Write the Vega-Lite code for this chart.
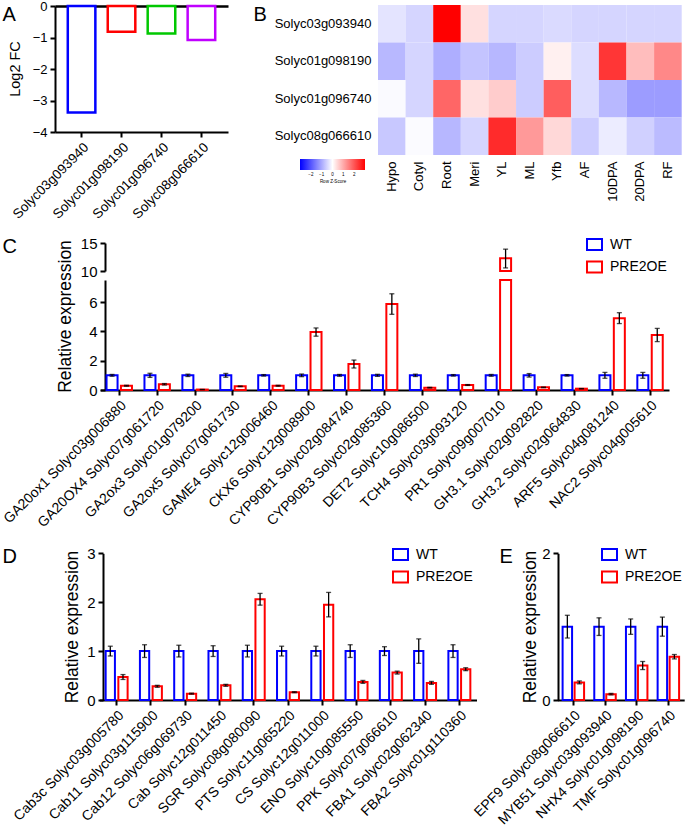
{
  "$schema": "https://vega.github.io/schema/vega-lite/v6.json",
  "width": 685,
  "height": 825,
  "autosize": "none",
  "padding": 0,
  "background": "white",
  "config": {
    "view": {"stroke": null},
    "font": "Liberation Sans",
    "axis": {"labelFont": "Liberation Sans", "titleFont": "Liberation Sans", "domainColor": "#000", "tickColor": "#000", "labelColor": "#000", "titleColor": "#000", "titleFontWeight": "normal", "domainWidth": 2, "tickWidth": 2, "tickSize": 5, "labelPadding": 3, "grid": false, "labelOverlap": false, "labelLimit": 0, "labelFlush": false},
    "legend": {"labelFont": "Liberation Sans", "titleFont": "Liberation Sans", "labelColor": "#000"}
  },
  "datasets": {
    "panelA": [
      {"gene": "Solyc03g093940", "log2fc": -3.38},
      {"gene": "Solyc01g098190", "log2fc": -0.82},
      {"gene": "Solyc01g096740", "log2fc": -0.87},
      {"gene": "Solyc08g066610", "log2fc": -1.08}
    ],
    "panelB": [
      {"gene": "Solyc03g093940", "tissue": "Hypo", "z": -0.32},
      {"gene": "Solyc03g093940", "tissue": "Cotyl", "z": -0.5},
      {"gene": "Solyc03g093940", "tissue": "Root", "z": 3.0},
      {"gene": "Solyc03g093940", "tissue": "Meri", "z": 0.37},
      {"gene": "Solyc03g093940", "tissue": "YL", "z": -0.5},
      {"gene": "Solyc03g093940", "tissue": "ML", "z": -0.5},
      {"gene": "Solyc03g093940", "tissue": "Yfb", "z": -0.43},
      {"gene": "Solyc03g093940", "tissue": "AF", "z": -0.5},
      {"gene": "Solyc03g093940", "tissue": "10DPA", "z": -0.5},
      {"gene": "Solyc03g093940", "tissue": "20DPA", "z": -0.5},
      {"gene": "Solyc03g093940", "tissue": "RF", "z": -0.5},
      {"gene": "Solyc01g098190", "tissue": "Hypo", "z": -0.84},
      {"gene": "Solyc01g098190", "tissue": "Cotyl", "z": -0.5},
      {"gene": "Solyc01g098190", "tissue": "Root", "z": -0.95},
      {"gene": "Solyc01g098190", "tissue": "Meri", "z": -0.7},
      {"gene": "Solyc01g098190", "tissue": "YL", "z": -0.85},
      {"gene": "Solyc01g098190", "tissue": "ML", "z": -0.6},
      {"gene": "Solyc01g098190", "tissue": "Yfb", "z": 0.18},
      {"gene": "Solyc01g098190", "tissue": "AF", "z": -0.4},
      {"gene": "Solyc01g098190", "tissue": "10DPA", "z": 2.37},
      {"gene": "Solyc01g098190", "tissue": "20DPA", "z": 0.78},
      {"gene": "Solyc01g098190", "tissue": "RF", "z": 1.4},
      {"gene": "Solyc01g096740", "tissue": "Hypo", "z": -0.06},
      {"gene": "Solyc01g096740", "tissue": "Cotyl", "z": -0.5},
      {"gene": "Solyc01g096740", "tissue": "Root", "z": 1.8},
      {"gene": "Solyc01g096740", "tissue": "Meri", "z": 0.37},
      {"gene": "Solyc01g096740", "tissue": "YL", "z": 0.6},
      {"gene": "Solyc01g096740", "tissue": "ML", "z": -0.6},
      {"gene": "Solyc01g096740", "tissue": "Yfb", "z": 1.9},
      {"gene": "Solyc01g096740", "tissue": "AF", "z": -0.4},
      {"gene": "Solyc01g096740", "tissue": "10DPA", "z": -0.84},
      {"gene": "Solyc01g096740", "tissue": "20DPA", "z": -1.16},
      {"gene": "Solyc01g096740", "tissue": "RF", "z": -1.16},
      {"gene": "Solyc08g066610", "tissue": "Hypo", "z": -0.65},
      {"gene": "Solyc08g066610", "tissue": "Cotyl", "z": -0.05},
      {"gene": "Solyc08g066610", "tissue": "Root", "z": -0.85},
      {"gene": "Solyc08g066610", "tissue": "Meri", "z": -0.5},
      {"gene": "Solyc08g066610", "tissue": "YL", "z": 2.5},
      {"gene": "Solyc08g066610", "tissue": "ML", "z": 1.2},
      {"gene": "Solyc08g066610", "tissue": "Yfb", "z": 0.46},
      {"gene": "Solyc08g066610", "tissue": "AF", "z": -0.6},
      {"gene": "Solyc08g066610", "tissue": "10DPA", "z": -0.22},
      {"gene": "Solyc08g066610", "tissue": "20DPA", "z": -0.55},
      {"gene": "Solyc08g066610", "tissue": "RF", "z": -0.8}
    ],
    "panelC": [
      {"gene": "GA20ox1 Solyc03g006880", "group": "WT", "value": 1.0, "lo": 0.94, "hi": 1.06},
      {"gene": "GA20ox1 Solyc03g006880", "group": "PRE2OE", "value": 0.29, "lo": 0.26, "hi": 0.32},
      {"gene": "GA20OX4 Solyc07g061720", "group": "WT", "value": 1.0, "lo": 0.86, "hi": 1.14},
      {"gene": "GA20OX4 Solyc07g061720", "group": "PRE2OE", "value": 0.39, "lo": 0.34, "hi": 0.44},
      {"gene": "GA2ox3 Solyc01g079200", "group": "WT", "value": 1.0, "lo": 0.92, "hi": 1.08},
      {"gene": "GA2ox3 Solyc01g079200", "group": "PRE2OE", "value": 0.03, "lo": 0.02, "hi": 0.04},
      {"gene": "GA2ox5 Solyc07g061730", "group": "WT", "value": 1.0, "lo": 0.87, "hi": 1.13},
      {"gene": "GA2ox5 Solyc07g061730", "group": "PRE2OE", "value": 0.25, "lo": 0.23, "hi": 0.27},
      {"gene": "GAME4 Solyc12g006460", "group": "WT", "value": 1.0, "lo": 0.95, "hi": 1.05},
      {"gene": "GAME4 Solyc12g006460", "group": "PRE2OE", "value": 0.29, "lo": 0.26, "hi": 0.32},
      {"gene": "CKX6 Solyc12g008900", "group": "WT", "value": 1.0, "lo": 0.91, "hi": 1.09},
      {"gene": "CKX6 Solyc12g008900", "group": "PRE2OE", "value": 3.95, "lo": 3.67, "hi": 4.23},
      {"gene": "CYP90B1 Solyc02g084740", "group": "WT", "value": 1.0, "lo": 0.94, "hi": 1.06},
      {"gene": "CYP90B1 Solyc02g084740", "group": "PRE2OE", "value": 1.77, "lo": 1.5, "hi": 2.04},
      {"gene": "CYP90B3 Solyc02g085360", "group": "WT", "value": 1.0, "lo": 0.93, "hi": 1.07},
      {"gene": "CYP90B3 Solyc02g085360", "group": "PRE2OE", "value": 5.86, "lo": 5.16, "hi": 6.56},
      {"gene": "DET2 Solyc10g086500", "group": "WT", "value": 1.0, "lo": 0.92, "hi": 1.08},
      {"gene": "DET2 Solyc10g086500", "group": "PRE2OE", "value": 0.16, "lo": 0.14, "hi": 0.18},
      {"gene": "TCH4 Solyc03g093120", "group": "WT", "value": 1.0, "lo": 0.95, "hi": 1.05},
      {"gene": "TCH4 Solyc03g093120", "group": "PRE2OE", "value": 0.34, "lo": 0.31, "hi": 0.37},
      {"gene": "PR1 Solyc09g007010", "group": "WT", "value": 1.0, "lo": 0.94, "hi": 1.06},
      {"gene": "PR1 Solyc09g007010", "group": "PRE2OE", "value": 12.27, "lo": 10.55, "hi": 13.9},
      {"gene": "GH3.1 Solyc02g092820", "group": "WT", "value": 1.0, "lo": 0.88, "hi": 1.12},
      {"gene": "GH3.1 Solyc02g092820", "group": "PRE2OE", "value": 0.18, "lo": 0.16, "hi": 0.2},
      {"gene": "GH3.2 Solyc02g064830", "group": "WT", "value": 1.0, "lo": 0.95, "hi": 1.05},
      {"gene": "GH3.2 Solyc02g064830", "group": "PRE2OE", "value": 0.09, "lo": 0.08, "hi": 0.1},
      {"gene": "ARF5 Solyc04g081240", "group": "WT", "value": 1.0, "lo": 0.8, "hi": 1.2},
      {"gene": "ARF5 Solyc04g081240", "group": "PRE2OE", "value": 4.9, "lo": 4.53, "hi": 5.27},
      {"gene": "NAC2 Solyc04g005610", "group": "WT", "value": 1.0, "lo": 0.8, "hi": 1.2},
      {"gene": "NAC2 Solyc04g005610", "group": "PRE2OE", "value": 3.75, "lo": 3.3, "hi": 4.2}
    ],
    "panelD": [
      {"gene": "Cab3c Solyc03g005780", "group": "WT", "value": 1.0, "lo": 0.9, "hi": 1.1},
      {"gene": "Cab3c Solyc03g005780", "group": "PRE2OE", "value": 0.47, "lo": 0.42, "hi": 0.52},
      {"gene": "Cab11 Solyc03g115900", "group": "WT", "value": 1.0, "lo": 0.87, "hi": 1.13},
      {"gene": "Cab11 Solyc03g115900", "group": "PRE2OE", "value": 0.28, "lo": 0.26, "hi": 0.3},
      {"gene": "Cab12 Solyc06g069730", "group": "WT", "value": 1.0, "lo": 0.88, "hi": 1.12},
      {"gene": "Cab12 Solyc06g069730", "group": "PRE2OE", "value": 0.13, "lo": 0.12, "hi": 0.14},
      {"gene": "Cab Solyc12g011450", "group": "WT", "value": 1.0, "lo": 0.89, "hi": 1.11},
      {"gene": "Cab Solyc12g011450", "group": "PRE2OE", "value": 0.3, "lo": 0.28, "hi": 0.32},
      {"gene": "SGR Solyc08g080090", "group": "WT", "value": 1.0, "lo": 0.88, "hi": 1.12},
      {"gene": "SGR Solyc08g080090", "group": "PRE2OE", "value": 2.06, "lo": 1.94, "hi": 2.18},
      {"gene": "PTS Solyc11g065220", "group": "WT", "value": 1.0, "lo": 0.9, "hi": 1.1},
      {"gene": "PTS Solyc11g065220", "group": "PRE2OE", "value": 0.16, "lo": 0.15, "hi": 0.17},
      {"gene": "CS Solyc12g011000", "group": "WT", "value": 1.0, "lo": 0.9, "hi": 1.1},
      {"gene": "CS Solyc12g011000", "group": "PRE2OE", "value": 1.95, "lo": 1.7, "hi": 2.2},
      {"gene": "ENO Solyc10g085550", "group": "WT", "value": 1.0, "lo": 0.87, "hi": 1.13},
      {"gene": "ENO Solyc10g085550", "group": "PRE2OE", "value": 0.37, "lo": 0.34, "hi": 0.4},
      {"gene": "PPK Solyc07g066610", "group": "WT", "value": 1.0, "lo": 0.91, "hi": 1.09},
      {"gene": "PPK Solyc07g066610", "group": "PRE2OE", "value": 0.56, "lo": 0.53, "hi": 0.59},
      {"gene": "FBA1 Solyc02g062340", "group": "WT", "value": 1.0, "lo": 0.75, "hi": 1.25},
      {"gene": "FBA1 Solyc02g062340", "group": "PRE2OE", "value": 0.35, "lo": 0.32, "hi": 0.38},
      {"gene": "FBA2 Solyc01g110360", "group": "WT", "value": 1.0, "lo": 0.87, "hi": 1.13},
      {"gene": "FBA2 Solyc01g110360", "group": "PRE2OE", "value": 0.63, "lo": 0.6, "hi": 0.66}
    ],
    "panelE": [
      {"gene": "EPF9 Solyc08g066610", "group": "WT", "value": 1.0, "lo": 0.845, "hi": 1.155},
      {"gene": "EPF9 Solyc08g066610", "group": "PRE2OE", "value": 0.24, "lo": 0.22, "hi": 0.26},
      {"gene": "MYB51 Solyc03g093940", "group": "WT", "value": 1.0, "lo": 0.88, "hi": 1.12},
      {"gene": "MYB51 Solyc03g093940", "group": "PRE2OE", "value": 0.08, "lo": 0.07, "hi": 0.09},
      {"gene": "NHX4 Solyc01g098190", "group": "WT", "value": 1.0, "lo": 0.895, "hi": 1.105},
      {"gene": "NHX4 Solyc01g098190", "group": "PRE2OE", "value": 0.47, "lo": 0.415, "hi": 0.525},
      {"gene": "TMF Solyc01g096740", "group": "WT", "value": 1.0, "lo": 0.87, "hi": 1.13},
      {"gene": "TMF Solyc01g096740", "group": "PRE2OE", "value": 0.59, "lo": 0.56, "hi": 0.62}
    ]
  },
  "layer": [
    {
      "data": {"name": "panelA"},
      "mark": {"type": "bar", "fill": "white", "strokeWidth": 2.5},
      "encoding": {
        "x": {"field": "gene", "type": "nominal", "sort": null,
          "scale": {"range": [55, 228], "paddingInner": 0.31, "paddingOuter": 0.32},
          "axis": {"orient": "bottom", "offset": -693, "labelAngle": -45, "labelFontSize": 13.5, "title": "A", "titleX": 2, "titleY": -112, "titleAngle": 0, "titleAlign": "left", "titleBaseline": "alphabetic", "titleFontSize": 20}},
        "y": {"field": "log2fc", "type": "quantitative",
          "scale": {"domain": [-4, 0], "range": [132, 6]},
          "axis": {"orient": "left", "offset": -55, "values": [-4, -3, -2, -1, 0], "format": "d", "labelFontSize": 13, "title": "Log2 FC", "titleFontSize": 14.5, "titleX": -40, "titleY": 68.5, "titleAngle": 270, "titleAlign": "center", "titleBaseline": "middle", "grid": true, "gridColor": "black", "gridWidth": 2.5, "gridOpacity": {"condition": {"test": "datum.value === 0", "value": 1}, "value": 0}}},
        "stroke": {"field": "gene", "type": "nominal", "sort": null, "scale": {"range": ["#0000ff", "#ff0000", "#00c800", "#c000ff"]}, "legend": null}
      }
    },
    {
      "data": {"name": "panelB"},
      "mark": "rect",
      "encoding": {
        "x": {"field": "tissue", "type": "nominal", "sort": null,
          "scale": {"range": [378, 681.7], "paddingInner": 0, "paddingOuter": 0},
          "axis": {"orient": "bottom", "offset": -670, "labelAngle": 270, "domain": false, "ticks": false, "tickSize": 0, "labelPadding": 6, "labelFontSize": 13, "title": "B", "titleX": 253, "titleY": -135, "titleAngle": 0, "titleAlign": "left", "titleBaseline": "alphabetic", "titleFontSize": 20}},
        "y": {"field": "gene", "type": "nominal", "sort": null,
          "scale": {"range": [5, 155], "paddingInner": 0, "paddingOuter": 0},
          "axis": {"orient": "left", "offset": -378, "domain": false, "ticks": false, "tickSize": 0, "labelPadding": 7, "labelFontSize": 13, "title": null}},
        "color": {"field": "z", "type": "quantitative",
          "scale": {"type": "linear", "domain": [-3, 0, 3], "range": ["#0000ff", "#ffffff", "#ff0000"], "interpolate": "rgb"},
          "legend": {"orient": "none", "legendX": 300, "legendY": 159, "direction": "horizontal", "gradientLength": 65, "gradientThickness": 11, "gradientStrokeWidth": 0, "values": [-2, -1, 0, 1, 2], "labelFontSize": 4.5, "labelOffset": 2, "title": "Row Z-Score", "titleOrient": "bottom", "titleFontSize": 4.5, "titleFontWeight": "normal", "titleAnchor": "middle", "titlePadding": 2, "padding": 0}}
      }
    },
    {
      "data": {"name": "panelC"},
      "transform": [{"filter": "datum.value > 8"}],
      "mark": {"type": "bar", "fill": "white", "strokeWidth": 2},
      "encoding": {
        "x": {"field": "gene", "type": "nominal", "scale": {"domain": ["GA20ox1 Solyc03g006880", "GA20OX4 Solyc07g061720", "GA2ox3 Solyc01g079200", "GA2ox5 Solyc07g061730", "GAME4 Solyc12g006460", "CKX6 Solyc12g008900", "CYP90B1 Solyc02g084740", "CYP90B3 Solyc02g085360", "DET2 Solyc10g086500", "TCH4 Solyc03g093120", "PR1 Solyc09g007010", "GH3.1 Solyc02g092820", "GH3.2 Solyc02g064830", "ARF5 Solyc04g081240", "NAC2 Solyc04g005610"], "range": [100.3, 669], "paddingInner": 0, "paddingOuter": 0}, "axis": null},
        "xOffset": {"field": "group", "type": "nominal", "scale": {"domain": ["WT", "PRE2OE"], "paddingInner": 0.236, "paddingOuter": 0.434}},
        "y": {"field": "value", "type": "quantitative", "scale": {"domain": [10, 15], "range": [271, 243]},
          "axis": {"orient": "left", "offset": -105, "values": [10, 15], "format": "d", "labelFontSize": 15, "title": null}},
        "y2": {"datum": 10},
        "stroke": {"field": "group", "type": "nominal", "scale": {"domain": ["WT", "PRE2OE"], "range": ["#0000ff", "#ff0000"]}, "legend": null}
      }
    },
    {
      "data": {"name": "panelC"},
      "transform": [{"filter": "datum.value > 8"}],
      "mark": {"type": "rule", "color": "black", "strokeWidth": 1.3},
      "encoding": {
        "x": {"field": "gene", "type": "nominal", "scale": {"domain": ["GA20ox1 Solyc03g006880", "GA20OX4 Solyc07g061720", "GA2ox3 Solyc01g079200", "GA2ox5 Solyc07g061730", "GAME4 Solyc12g006460", "CKX6 Solyc12g008900", "CYP90B1 Solyc02g084740", "CYP90B3 Solyc02g085360", "DET2 Solyc10g086500", "TCH4 Solyc03g093120", "PR1 Solyc09g007010", "GH3.1 Solyc02g092820", "GH3.2 Solyc02g064830", "ARF5 Solyc04g081240", "NAC2 Solyc04g005610"], "range": [100.3, 669], "paddingInner": 0, "paddingOuter": 0}, "axis": null},
        "xOffset": {"field": "group", "type": "nominal", "scale": {"domain": ["WT", "PRE2OE"], "paddingInner": 0.236, "paddingOuter": 0.434}},
        "y": {"field": "lo", "type": "quantitative", "scale": {"domain": [10, 15], "range": [271, 243]}, "axis": null},
        "y2": {"field": "hi"}
      }
    },
    {
      "data": {"name": "panelC"},
      "transform": [{"filter": "datum.value > 8"}, {"fold": ["lo", "hi"], "as": ["end", "ev"]}],
      "mark": {"type": "tick", "color": "black", "size": 5, "thickness": 1.3},
      "encoding": {
        "x": {"field": "gene", "type": "nominal", "scale": {"domain": ["GA20ox1 Solyc03g006880", "GA20OX4 Solyc07g061720", "GA2ox3 Solyc01g079200", "GA2ox5 Solyc07g061730", "GAME4 Solyc12g006460", "CKX6 Solyc12g008900", "CYP90B1 Solyc02g084740", "CYP90B3 Solyc02g085360", "DET2 Solyc10g086500", "TCH4 Solyc03g093120", "PR1 Solyc09g007010", "GH3.1 Solyc02g092820", "GH3.2 Solyc02g064830", "ARF5 Solyc04g081240", "NAC2 Solyc04g005610"], "range": [100.3, 669], "paddingInner": 0, "paddingOuter": 0}, "axis": null},
        "xOffset": {"field": "group", "type": "nominal", "scale": {"domain": ["WT", "PRE2OE"], "paddingInner": 0.236, "paddingOuter": 0.434}},
        "y": {"field": "ev", "type": "quantitative", "scale": {"domain": [10, 15], "range": [271, 243]}, "axis": null}
      }
    },
    {
      "data": {"name": "panelC"},
      "mark": {"type": "bar", "fill": "white", "strokeWidth": 2},
      "encoding": {
        "x": {"field": "gene", "type": "nominal", "scale": {"domain": ["GA20ox1 Solyc03g006880", "GA20OX4 Solyc07g061720", "GA2ox3 Solyc01g079200", "GA2ox5 Solyc07g061730", "GAME4 Solyc12g006460", "CKX6 Solyc12g008900", "CYP90B1 Solyc02g084740", "CYP90B3 Solyc02g085360", "DET2 Solyc10g086500", "TCH4 Solyc03g093120", "PR1 Solyc09g007010", "GH3.1 Solyc02g092820", "GH3.2 Solyc02g064830", "ARF5 Solyc04g081240", "NAC2 Solyc04g005610"], "range": [100.3, 669], "paddingInner": 0, "paddingOuter": 0},
          "axis": {"orient": "bottom", "offset": -435, "labelAngle": -45, "labelFontSize": 14, "title": "C", "titleX": 2, "titleY": -138, "titleAngle": 0, "titleAlign": "left", "titleBaseline": "alphabetic", "titleFontSize": 20}},
        "xOffset": {"field": "group", "type": "nominal", "scale": {"domain": ["WT", "PRE2OE"], "paddingInner": 0.236, "paddingOuter": 0.434}},
        "y": {"field": "value", "type": "quantitative", "scale": {"domain": [0, 7.5], "range": [390, 280], "clamp": true},
          "axis": {"orient": "left", "offset": -105, "values": [0, 2, 4, 6], "format": "d", "labelFontSize": 15, "title": "Relative expression", "titleFontSize": 17.5, "titleX": -40, "titleY": 316, "titleAngle": 270, "titleAlign": "center", "titleBaseline": "middle"}},
        "stroke": {"field": "group", "type": "nominal", "scale": {"domain": ["WT", "PRE2OE"], "range": ["#0000ff", "#ff0000"]},
          "legend": {"orient": "none", "legendX": 586, "legendY": 236, "title": null, "symbolType": "M-1,-0.73H1V0.73H-1Z", "symbolSize": 225, "symbolStrokeWidth": 2, "symbolFillColor": "white", "labelFontSize": 14, "labelOffset": 7, "rowPadding": 3.5, "padding": 0}}
      }
    },
    {
      "data": {"name": "panelC"},
      "transform": [{"filter": "datum.value < 8"}],
      "mark": {"type": "rule", "color": "black", "strokeWidth": 1.3},
      "encoding": {
        "x": {"field": "gene", "type": "nominal", "scale": {"domain": ["GA20ox1 Solyc03g006880", "GA20OX4 Solyc07g061720", "GA2ox3 Solyc01g079200", "GA2ox5 Solyc07g061730", "GAME4 Solyc12g006460", "CKX6 Solyc12g008900", "CYP90B1 Solyc02g084740", "CYP90B3 Solyc02g085360", "DET2 Solyc10g086500", "TCH4 Solyc03g093120", "PR1 Solyc09g007010", "GH3.1 Solyc02g092820", "GH3.2 Solyc02g064830", "ARF5 Solyc04g081240", "NAC2 Solyc04g005610"], "range": [100.3, 669], "paddingInner": 0, "paddingOuter": 0}, "axis": null},
        "xOffset": {"field": "group", "type": "nominal", "scale": {"domain": ["WT", "PRE2OE"], "paddingInner": 0.236, "paddingOuter": 0.434}},
        "y": {"field": "lo", "type": "quantitative", "scale": {"domain": [0, 7.5], "range": [390, 280], "clamp": true}, "axis": null},
        "y2": {"field": "hi"}
      }
    },
    {
      "data": {"name": "panelC"},
      "transform": [{"filter": "datum.value < 8"}, {"fold": ["lo", "hi"], "as": ["end", "ev"]}],
      "mark": {"type": "tick", "color": "black", "size": 5, "thickness": 1.3},
      "encoding": {
        "x": {"field": "gene", "type": "nominal", "scale": {"domain": ["GA20ox1 Solyc03g006880", "GA20OX4 Solyc07g061720", "GA2ox3 Solyc01g079200", "GA2ox5 Solyc07g061730", "GAME4 Solyc12g006460", "CKX6 Solyc12g008900", "CYP90B1 Solyc02g084740", "CYP90B3 Solyc02g085360", "DET2 Solyc10g086500", "TCH4 Solyc03g093120", "PR1 Solyc09g007010", "GH3.1 Solyc02g092820", "GH3.2 Solyc02g064830", "ARF5 Solyc04g081240", "NAC2 Solyc04g005610"], "range": [100.3, 669], "paddingInner": 0, "paddingOuter": 0}, "axis": null},
        "xOffset": {"field": "group", "type": "nominal", "scale": {"domain": ["WT", "PRE2OE"], "paddingInner": 0.236, "paddingOuter": 0.434}},
        "y": {"field": "ev", "type": "quantitative", "scale": {"domain": [0, 7.5], "range": [390, 280], "clamp": true}, "axis": null}
      }
    },
    {
      "data": {"name": "panelD"},
      "mark": {"type": "bar", "fill": "white", "strokeWidth": 2},
      "encoding": {
        "x": {"field": "gene", "type": "nominal", "sort": null, "scale": {"range": [99.5, 476.5], "paddingInner": 0, "paddingOuter": 0},
          "axis": {"orient": "bottom", "offset": -125, "labelAngle": -45, "labelFontSize": 14, "title": "D", "titleX": 2, "titleY": -138, "titleAngle": 0, "titleAlign": "left", "titleBaseline": "alphabetic", "titleFontSize": 20}},
        "xOffset": {"field": "group", "type": "nominal", "scale": {"domain": ["WT", "PRE2OE"], "paddingInner": 0.27, "paddingOuter": 0.485}},
        "y": {"field": "value", "type": "quantitative", "scale": {"domain": [0, 3], "range": [700, 553.3]},
          "axis": {"orient": "left", "offset": -103, "values": [0, 1, 2, 3], "format": "d", "labelFontSize": 15, "title": "Relative expression", "titleFontSize": 17.5, "titleX": -31, "titleY": 626.5, "titleAngle": 270, "titleAlign": "center", "titleBaseline": "middle"}},
        "stroke": {"field": "group", "type": "nominal", "scale": {"domain": ["WT", "PRE2OE"], "range": ["#0000ff", "#ff0000"]},
          "legend": {"orient": "none", "legendX": 392, "legendY": 546, "title": null, "symbolType": "M-1,-0.73H1V0.73H-1Z", "symbolSize": 225, "symbolStrokeWidth": 2, "symbolFillColor": "white", "labelFontSize": 14, "labelOffset": 7, "rowPadding": 3.5, "padding": 0}}
      }
    },
    {
      "data": {"name": "panelD"},
      "mark": {"type": "rule", "color": "black", "strokeWidth": 1.3},
      "encoding": {
        "x": {"field": "gene", "type": "nominal", "sort": null, "scale": {"range": [99.5, 476.5], "paddingInner": 0, "paddingOuter": 0}, "axis": null},
        "xOffset": {"field": "group", "type": "nominal", "scale": {"domain": ["WT", "PRE2OE"], "paddingInner": 0.27, "paddingOuter": 0.485}},
        "y": {"field": "lo", "type": "quantitative", "scale": {"domain": [0, 3], "range": [700, 553.3]}, "axis": null},
        "y2": {"field": "hi"}
      }
    },
    {
      "data": {"name": "panelD"},
      "transform": [{"fold": ["lo", "hi"], "as": ["end", "ev"]}],
      "mark": {"type": "tick", "color": "black", "size": 5, "thickness": 1.3},
      "encoding": {
        "x": {"field": "gene", "type": "nominal", "sort": null, "scale": {"range": [99.5, 476.5], "paddingInner": 0, "paddingOuter": 0}, "axis": null},
        "xOffset": {"field": "group", "type": "nominal", "scale": {"domain": ["WT", "PRE2OE"], "paddingInner": 0.27, "paddingOuter": 0.485}},
        "y": {"field": "ev", "type": "quantitative", "scale": {"domain": [0, 3], "range": [700, 553.3]}, "axis": null}
      }
    },
    {
      "data": {"name": "panelE"},
      "mark": {"type": "bar", "fill": "white", "strokeWidth": 2},
      "encoding": {
        "x": {"field": "gene", "type": "nominal", "sort": null, "scale": {"range": [557.5, 684.2], "paddingInner": 0, "paddingOuter": 0},
          "axis": {"orient": "bottom", "offset": -125, "labelAngle": -45, "labelFontSize": 14, "title": "E", "titleX": 499, "titleY": -138, "titleAngle": 0, "titleAlign": "left", "titleBaseline": "alphabetic", "titleFontSize": 20}},
        "xOffset": {"field": "group", "type": "nominal", "scale": {"domain": ["WT", "PRE2OE"], "paddingInner": 0.21, "paddingOuter": 0.425}},
        "y": {"field": "value", "type": "quantitative", "scale": {"domain": [0, 2], "range": [700, 553.3]},
          "axis": {"orient": "left", "offset": -558, "values": [0, 1, 2], "format": "d", "labelFontSize": 15, "title": "Relative expression", "titleFontSize": 17.5, "titleX": -28, "titleY": 626.5, "titleAngle": 270, "titleAlign": "center", "titleBaseline": "middle"}},
        "stroke": {"field": "group", "type": "nominal", "scale": {"domain": ["WT", "PRE2OE"], "range": ["#0000ff", "#ff0000"]},
          "legend": {"orient": "none", "legendX": 601, "legendY": 546, "title": null, "symbolType": "M-1,-0.73H1V0.73H-1Z", "symbolSize": 225, "symbolStrokeWidth": 2, "symbolFillColor": "white", "labelFontSize": 14, "labelOffset": 7, "rowPadding": 3.5, "padding": 0}}
      }
    },
    {
      "data": {"name": "panelE"},
      "mark": {"type": "rule", "color": "black", "strokeWidth": 1.3},
      "encoding": {
        "x": {"field": "gene", "type": "nominal", "sort": null, "scale": {"range": [557.5, 684.2], "paddingInner": 0, "paddingOuter": 0}, "axis": null},
        "xOffset": {"field": "group", "type": "nominal", "scale": {"domain": ["WT", "PRE2OE"], "paddingInner": 0.21, "paddingOuter": 0.425}},
        "y": {"field": "lo", "type": "quantitative", "scale": {"domain": [0, 2], "range": [700, 553.3]}, "axis": null},
        "y2": {"field": "hi"}
      }
    },
    {
      "data": {"name": "panelE"},
      "transform": [{"fold": ["lo", "hi"], "as": ["end", "ev"]}],
      "mark": {"type": "tick", "color": "black", "size": 5, "thickness": 1.3},
      "encoding": {
        "x": {"field": "gene", "type": "nominal", "sort": null, "scale": {"range": [557.5, 684.2], "paddingInner": 0, "paddingOuter": 0}, "axis": null},
        "xOffset": {"field": "group", "type": "nominal", "scale": {"domain": ["WT", "PRE2OE"], "paddingInner": 0.21, "paddingOuter": 0.425}},
        "y": {"field": "ev", "type": "quantitative", "scale": {"domain": [0, 2], "range": [700, 553.3]}, "axis": null}
      }
    }
  ],
  "resolve": {
    "scale": {"x": "independent", "y": "independent", "xOffset": "independent", "stroke": "independent", "color": "independent"},
    "axis": {"x": "independent", "y": "independent"},
    "legend": {"stroke": "independent", "color": "independent"}
  }
}
